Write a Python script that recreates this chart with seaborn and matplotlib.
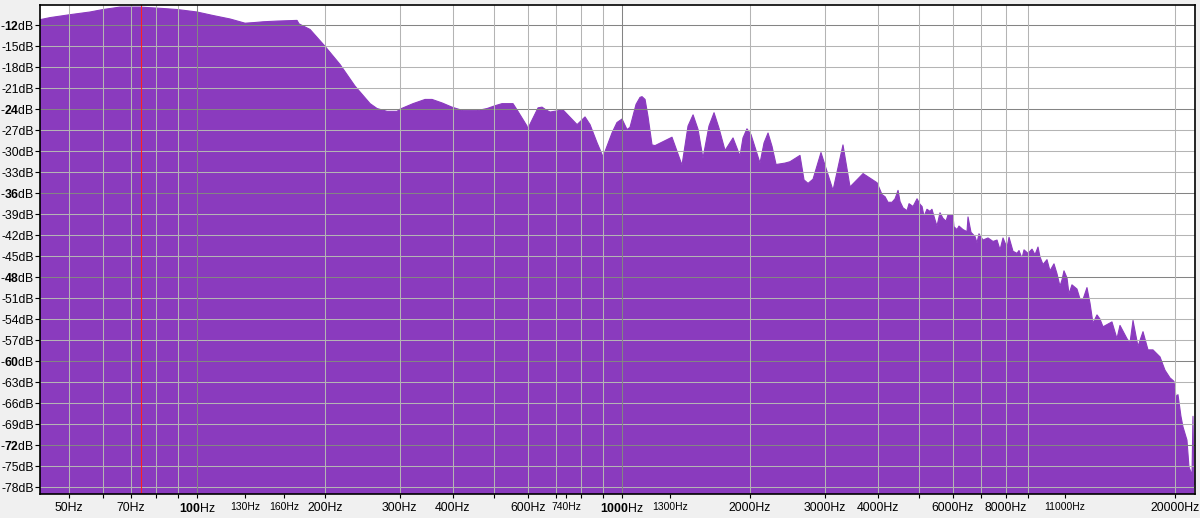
import matplotlib
matplotlib.use("Agg")
import matplotlib.pyplot as plt
import seaborn as sns
import pandas as pd
from matplotlib.ticker import FixedLocator, NullLocator

# ---- data (frequency in Hz, level in dB) ----
freq_hz = [42.7, 45.1, 50, 56, 60, 65.9, 73.4, 83.2, 90, 100, 109, 119.6, 129.7, 137, 143,
           154.3, 171.9, 173.8, 184.5, 200, 217, 235.4, 255.4, 265.2, 280, 295.6, 300,
           322.3, 344, 357.3, 377.2, 398, 422.6, 456, 481.3, 502.5, 522, 554, 569, 597.6,
           600, 634.5, 648.3, 662.5, 677, 726.5, 784, 818.3, 841, 873.6, 902.2, 947, 973,
           1000, 1027.5, 1044, 1079, 1102.6, 1114.6, 1133, 1151, 1176.6, 1196,
           1311, 1384, 1430, 1469.6, 1510, 1550.6, 1602, 1646.4, 1691, 1747.8, 1824.8,
           1895, 1926, 1968, 2011, 2112, 2159, 2206, 2254,
           2304, 2418, 2485, 2623, 2681, 2740, 2815, 2939, 3137, 3311, 3440, 3692, 3981,
           4091, 4158, 4226, 4319, 4390, 4462, 4511, 4585, 4685, 4736, 4840, 4946, 5027,
           5082, 5137, 5219, 5305, 5362, 5451, 5510, 5601, 5693, 5787, 5850, 6010, 6042,
           6141, 6208, 6344, 6483, 6519, 6626, 6771, 6845, 6918, 7070, 7265, 7465, 7628,
           7754, 7880, 8053, 8141, 8318, 8500, 8593, 8735, 8830, 9023, 9221, 9372, 9525,
           9627, 9786, 10000, 10164, 10387, 10556, 10730, 10847, 10965, 11145, 11267,
           11450, 11765, 11957, 12154, 12420, 12624, 12831, 13112, 13327, 13547, 14220,
           14612, 14852, 15427, 15680, 15939, 16374, 16825, 17286, 17761, 18447, 18953,
           19474, 19900, 20117, 20336, 20667, 20893, 21350, 21583, 21940, 22059, 22179]
level_db = [-11.2, -10.9, -10.5, -10.1, -9.75, -9.4, -9.4, -9.6, -9.75, -10.1, -10.6, -11.1,
            -11.7, -11.6, -11.5, -11.4, -11.3, -11.8, -12.6, -15.0, -17.6, -20.7, -23.2,
            -23.9, -24.3, -24.3, -24.0, -23.2, -22.6, -22.6, -23.1, -23.7, -24.2, -24.2,
            -23.9, -23.5, -23.2, -23.2, -24.3, -26.4, -26.8, -23.8, -23.7, -24.1, -24.4,
            -24.1, -26.2, -25.1, -26.2, -28.8, -30.8, -27.4, -25.9,
            -25.4, -26.9, -26.6, -23.3, -22.3, -22.2, -22.6, -25.0, -29.1, -29.2,
            -28.0, -32.0, -26.4, -24.8, -26.9, -31.0, -26.4, -24.5, -26.7, -29.9, -28.1,
            -30.7, -28.1, -26.8, -27.6, -31.7, -28.8, -27.4, -29.3,
            -31.9, -31.7, -31.5, -30.6, -34.1,
            -34.6, -34.0, -30.2, -35.6, -29.1, -35.1, -33.2, -34.5, -36.2, -36.5, -37.3,
            -37.3, -36.8, -35.6, -37.2, -38.1, -38.5, -37.5, -37.9, -36.8, -37.6, -37.9,
            -39.3, -38.3, -38.6, -38.3, -39.8, -40.7, -38.8, -39.6, -40.0, -39.1, -39.2,
            -40.8, -41.2, -40.7, -41.2, -41.5, -39.4, -41.6, -42.2, -43.1, -41.8, -42.7,
            -42.4, -42.9, -42.7, -44.1, -42.4, -43.8, -42.3, -44.3, -44.6, -44.2, -45.3,
            -44.1, -44.6, -44.0, -44.8, -43.7, -45.1, -46.2, -45.5, -47.1, -46.1, -47.5,
            -49.3, -48.4, -47.1, -48.1, -50.4, -49.1, -49.7, -51.1, -51.2, -49.5, -51.7,
            -54.6, -53.4, -54.0, -55.1, -54.4, -56.8, -54.9, -56.8, -57.4, -54.2, -57.9,
            -55.8, -58.4, -58.4, -59.4, -61.3, -62.4, -62.9, -65.1, -64.8, -67.9, -69.4,
            -71.3, -75.1, -76.3, -67.9, -77.7]

y_ticks_db = list(range(-12, -79, -3))
y_bold_db = [-12, -24, -36, -48, -60, -72]
x_grid_hz = [50, 60, 70, 80, 90, 100, 200, 300, 400, 500, 600, 700, 800, 900, 1000,
             2000, 3000, 4000, 5000, 6000, 7000, 8000, 9000, 20000]
x_major_grid_hz = [100, 1000]
x_tick_hz = [50, 60, 70, 80, 90, 100, 130, 160, 200, 300, 400, 500, 600, 700, 740, 800,
             900, 1000, 1300, 2000, 3000, 4000, 5000, 6000, 7000, 8000, 9000, 11000, 20000]
x_labeled_hz = [50, 70, 100, 130, 160, 200, 300, 400, 600, 740, 1000, 1300, 2000, 3000,
                4000, 6000, 8000, 11000, 20000]
x_bold_hz = [100, 1000]
x_small_hz = [130, 160, 740, 1300, 11000]
cursor_hz = 73.8

# ---- style ----
sns.set_style("white")
plt.rcParams["font.family"] = ["Liberation Sans", "DejaVu Sans"]
plt.rcParams["mathtext.fontset"] = "custom"
plt.rcParams["mathtext.rm"] = "Liberation Sans"
plt.rcParams["mathtext.bf"] = "Liberation Sans:bold"

purple = "#8a3bbe"
minor_grid = "#b4b4b4"
major_grid = "#848484"

fig = plt.figure(figsize=(12, 5.18), dpi=100, facecolor="#f0f0f0")
ax = fig.add_axes([40 / 1200, 1 - 494 / 518, 1155 / 1200, 489 / 518])
ax.set_facecolor("white")

df = pd.DataFrame({"freq": freq_hz, "db": level_db})
ax.fill_between(df["freq"], df["db"], -200, color=purple, linewidth=0, zorder=1)
sns.lineplot(data=df, x="freq", y="db", ax=ax, color=purple, lw=0.8,
             estimator=None, sort=False, zorder=1)

ax.set_xscale("log")
ax.set_xlim(42.7, 22300)
ax.set_ylim(-79.0, -9.1)

# gridlines above the fill
for d in y_ticks_db:
    ax.axhline(d, color=major_grid if d in y_bold_db else minor_grid, lw=0.75, zorder=3)
for f in x_grid_hz:
    ax.axvline(f, color=major_grid if f in x_major_grid_hz else minor_grid, lw=0.75, zorder=3)
ax.axvline(cursor_hz, color="#ff2020", lw=0.75, zorder=3.5)

# ticks
ax.yaxis.set_major_locator(FixedLocator(y_ticks_db))
ylabels = []
for d in y_ticks_db:
    if d in y_bold_db:
        ylabels.append("-$\\mathbf{%d}$dB" % abs(d))
    else:
        ylabels.append("%ddB" % d)
ax.set_yticklabels(ylabels)

ax.xaxis.set_major_locator(FixedLocator(x_tick_hz))
ax.xaxis.set_minor_locator(NullLocator())
xlabels = []
for f in x_tick_hz:
    if f not in x_labeled_hz:
        xlabels.append("")
    elif f in x_bold_hz:
        xlabels.append("$\\mathbf{%d}$Hz" % f)
    else:
        xlabels.append("%dHz" % f)
ax.set_xticklabels(xlabels)
ax.set_xlabel("")
ax.set_ylabel("")

ax.tick_params(axis="y", direction="out", length=3.6, width=0.8, pad=0.8,
               labelsize=8.8, colors="black", left=True)
ax.tick_params(axis="x", direction="out", length=3.0, width=0.8, pad=2.5,
               labelsize=8.8, colors="black", bottom=True)
for f, lab in zip(x_tick_hz, ax.get_xticklabels()):
    if f in x_small_hz:
        lab.set_fontsize(7.5)

for s in ax.spines.values():
    s.set_visible(True)
    s.set_color("black")
    s.set_linewidth(1.2)
    s.set_zorder(4)

fig.savefig("out.png", dpi=100, facecolor=fig.get_facecolor())
